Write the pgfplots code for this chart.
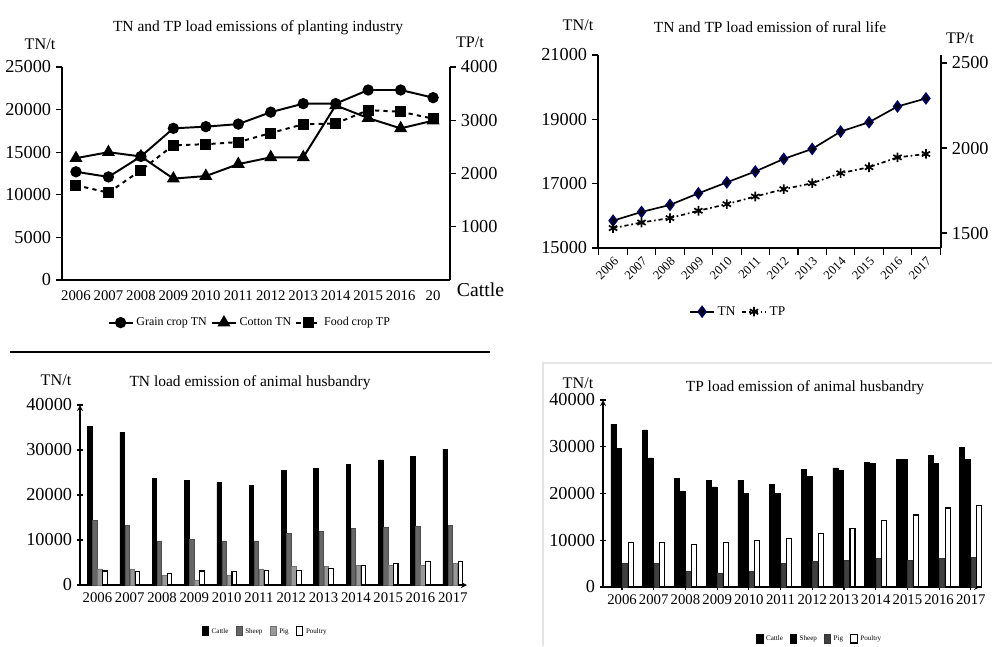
\documentclass[border=0pt]{standalone}
\usepackage{fontspec}
\setmainfont{Liberation Serif}
\usepackage{pgfplots}
\pgfplotsset{compat=1.18}

\pgfplotsset{
  base/.style={
    scale only axis, anchor=south west,
    /pgf/number format/assume math mode=true,
    /pgf/number format/1000 sep={},
    scaled y ticks=false,
    tick align=outside,
    axis line style={line width=0.9pt},
    tick style={line width=0.8pt, black},
    yticklabel style={font=\fontsize{13}{14}\selectfont},
    xticklabel style={font=\fontsize{10.5}{12}\selectfont},
    clip=false,
  },
  barleg/.style={
    legend columns=-1, legend cell align=left,
    legend style={draw=none, fill=none, font=\fontsize{5}{6}\selectfont,
      /tikz/every even column/.append style={column sep=3pt}},
    legend image code/.code={\draw[##1, bar shift=0pt] (0cm,-0.09cm) rectangle (0.16cm,0.13cm);},
  },
}

\begin{document}
\begin{tikzpicture}
\path[use as bounding box] (0,0) rectangle (25.2cm,16.15cm);

% ---------- top left: planting industry
\begin{axis}[base,
  at={(1.55cm,9.15cm)}, width=9.7cm, height=5.325cm,
  xmin=-0.43, xmax=11.52, ymin=0, ymax=25000,
  ytick={0,5000,10000,15000,20000,25000},
  xtick={0,...,11},
  xticklabels={2006,2007,2008,2009,2010,2011,2012,2013,2014,2015,2016,20},
  major x tick style={draw=none},
  axis x line*=bottom, axis y line*=left,
  legend columns=-1,
  legend style={at={(0.485,-0.2)}, anchor=center, draw=none, fill=none,
    font=\fontsize{8.5}{10}\selectfont,
    /tikz/every even column/.append style={column sep=1pt}},
]
\addplot[black, line width=1.4pt, mark=*, mark size=3.3pt] coordinates {
 (0,12700) (1,12100) (2,14500) (3,17800) (4,18000) (5,18300)
 (6,19700) (7,20700) (8,20700) (9,22300) (10,22300) (11,21400)};
\addlegendentry{Grain crop TN}
\addplot[black, line width=1.4pt, mark=triangle*, mark size=4pt] coordinates {
 (0,14300) (1,15000) (2,14500) (3,11900) (4,12200) (5,13600)
 (6,14400) (7,14400) (8,20500) (9,19000) (10,17800) (11,18700)};
\addlegendentry{Cotton TN}
\addlegendimage{black, line width=1.4pt, dashed, mark=square*, mark size=3.2pt, mark options={solid}}
\addlegendentry{Food crop TP}
\end{axis}
\begin{axis}[base,
  at={(1.55cm,9.15cm)}, width=9.7cm, height=5.325cm,
  xmin=-0.43, xmax=11.52, ymin=0, ymax=4000,
  ytick={1000,2000,3000,4000},
  axis x line=none, axis y line*=right,
]
\addplot[black, line width=1.4pt, dashed, mark=square*, mark size=3.2pt, mark options={solid}] coordinates {
 (0,1780) (1,1640) (2,2060) (3,2530) (4,2550) (5,2590)
 (6,2760) (7,2925) (8,2940) (9,3190) (10,3160) (11,3030)};
\end{axis}
\node[font=\fontsize{11}{13}\selectfont] at (6.45cm,15.45cm) {TN and TP load emissions of planting industry};
\node[font=\fontsize{11.5}{13}\selectfont] at (1.0cm,15.05cm) {TN/t};
\node[font=\fontsize{11.5}{13}\selectfont] at (11.75cm,15.1cm) {TP/t};
\node[font=\fontsize{14}{16}\selectfont, anchor=west] at (11.3cm,8.9cm) {Cattle};

% ---------- top right: rural life
\begin{axis}[base,
  at={(14.95cm,9.95cm)}, width=8.575cm, height=4.825cm,
  xmin=-0.53, xmax=11.53, ymin=15000, ymax=21000,
  ytick={15000,17000,19000,21000},
  xtick={0,...,11},
  xticklabels={2006,2007,2008,2009,2010,2011,2012,2013,2014,2015,2016,2017},
  xticklabel style={rotate=45, anchor=north east, inner sep=1pt, font=\fontsize{9}{10}\selectfont},
  major x tick style={draw=none},
  minor xtick={-0.5,0.5,...,11.5},
  minor x tick style={draw=black, line width=0.8pt},
  minor tick length=5pt,
  axis x line*=bottom, axis y line*=left,
  legend columns=-1,
  legend style={at={(0.41,-0.33)}, anchor=center, draw=none, fill=none,
    font=\fontsize{9.5}{11}\selectfont,
    /tikz/every even column/.append style={column sep=2pt}},
]
\addplot[black, line width=1.2pt, mark=diamond*, mark size=3.6pt,
  mark options={draw=blue!40!black}] coordinates {
 (0,15850) (1,16120) (2,16340) (3,16700) (4,17040) (5,17380)
 (6,17770) (7,18080) (8,18620) (9,18910) (10,19400) (11,19650)};
\addlegendentry{TN}
\addlegendimage{black, line width=1.2pt, dash dot, mark=asterisk, mark size=3.4pt, mark options={solid}}
\addlegendentry{TP}
\end{axis}
\begin{axis}[base,
  at={(14.95cm,9.95cm)}, width=8.575cm, height=4.825cm,
  xmin=-0.53, xmax=11.53, ymin=1412, ymax=2547,
  ytick={1500,2000,2500},
  axis x line=none, axis y line*=right,
]
\addplot[black, line width=1.2pt, dash dot, mark=asterisk, mark size=3.4pt, mark options={solid}] coordinates {
 (0,1529) (1,1562) (2,1588) (3,1631) (4,1670) (5,1715)
 (6,1758) (7,1793) (8,1852) (9,1887) (10,1945) (11,1965)};
\end{axis}
\node[font=\fontsize{11}{13}\selectfont] at (19.25cm,15.475cm) {TN and TP load emission of rural life};
\node[font=\fontsize{11.5}{13}\selectfont] at (14.45cm,15.525cm) {TN/t};
\node[font=\fontsize{11.5}{13}\selectfont] at (24.0cm,15.2cm) {TP/t};

% separator
\draw[line width=1.5pt] (0.25cm,7.35cm) -- (12.25cm,7.35cm);

% ---------- bottom left: TN animal husbandry
\begin{axis}[base,
  at={(2.0cm,1.525cm)}, width=9.675cm, height=4.5cm,
  ybar=0.4pt, bar width=0.1125cm, barleg,
  xmin=-0.54, xmax=11.44, ymin=0, ymax=40000,
  ytick={0,10000,20000,30000,40000},
  xtick={0,...,11},
  xticklabels={2006,2007,2008,2009,2010,2011,2012,2013,2014,2015,2016,2017},
  major x tick style={draw=none},
  axis lines=left,
  legend style={at={(0.48,-0.26)}, anchor=center},
]
\addplot[fill=black, draw=black] coordinates {
 (0,35300) (1,33900) (2,23700) (3,23200) (4,22800) (5,22100)
 (6,25400) (7,25900) (8,26800) (9,27800) (10,28500) (11,30200)};
\addlegendentry{Cattle}
\addplot[fill=black!60, draw=black!70] coordinates {
 (0,14400) (1,13300) (2,9800) (3,10200) (4,9800) (5,9800)
 (6,11500) (7,11900) (8,12600) (9,12800) (10,13000) (11,13300)};
\addlegendentry{Sheep}
\addplot[fill=black!40, draw=black!55] coordinates {
 (0,3600) (1,3600) (2,2200) (3,1000) (4,2200) (5,3600)
 (6,4100) (7,4100) (8,4400) (9,4400) (10,4400) (11,4800)};
\addlegendentry{Pig}
\addplot[fill=white, draw=black, line width=0.8pt] coordinates {
 (0,3100) (1,3000) (2,2600) (3,3100) (4,3000) (5,3300)
 (6,3300) (7,3600) (8,4400) (9,4800) (10,5200) (11,5200)};
\addlegendentry{Poultry}
\end{axis}
\node[font=\fontsize{11.5}{13}\selectfont] at (1.4cm,6.65cm) {TN/t};
\node[font=\fontsize{11}{13}\selectfont] at (6.25cm,6.575cm) {TN load emission of animal husbandry};

% ---------- bottom right: TP animal husbandry
\draw[gray!20, line width=0.8pt] (13.575cm,0cm) -- (13.575cm,7.075cm) -- (24.8cm,7.075cm);
\begin{axis}[base,
  at={(15.075cm,1.475cm)}, width=9.425cm, height=4.675cm,
  ybar=0.5pt, bar width=0.125cm, barleg,
  xmin=-0.6, xmax=11.29, ymin=0, ymax=40000,
  ytick={0,10000,20000,30000,40000},
  xtick={0,...,11},
  xticklabels={2006,2007,2008,2009,2010,2011,2012,2013,2014,2015,2016,2017},
  axis lines=left,
  legend style={at={(0.576,-0.28)}, anchor=center},
]
\addplot[fill=black, draw=black] coordinates {
 (0,34800) (1,33600) (2,23200) (3,22800) (4,22800) (5,21900)
 (6,25100) (7,25500) (8,26600) (9,27300) (10,28100) (11,29900)};
\addlegendentry{Cattle}
\addplot[fill=black, draw=black] coordinates {
 (0,29600) (1,27600) (2,20500) (3,21400) (4,20100) (5,20100)
 (6,23700) (7,24900) (8,26400) (9,27300) (10,26400) (11,27300)};
\addlegendentry{Sheep}
\addplot[fill=black!75, draw=black!80] coordinates {
 (0,5000) (1,5000) (2,3400) (3,3000) (4,3400) (5,5000)
 (6,5500) (7,5700) (8,6100) (9,5700) (10,6100) (11,6400)};
\addlegendentry{Pig}
\addplot[fill=white, draw=black, line width=0.8pt] coordinates {
 (0,9600) (1,9600) (2,9100) (3,9600) (4,10000) (5,10300)
 (6,11400) (7,12600) (8,14200) (9,15400) (10,16900) (11,17400)};
\addlegendentry{Poultry}
\end{axis}
\node[font=\fontsize{11.5}{13}\selectfont] at (14.45cm,6.575cm) {TN/t};
\node[font=\fontsize{11}{13}\selectfont] at (20.125cm,6.45cm) {TP load emission of animal husbandry};
\end{tikzpicture}
\end{document}
